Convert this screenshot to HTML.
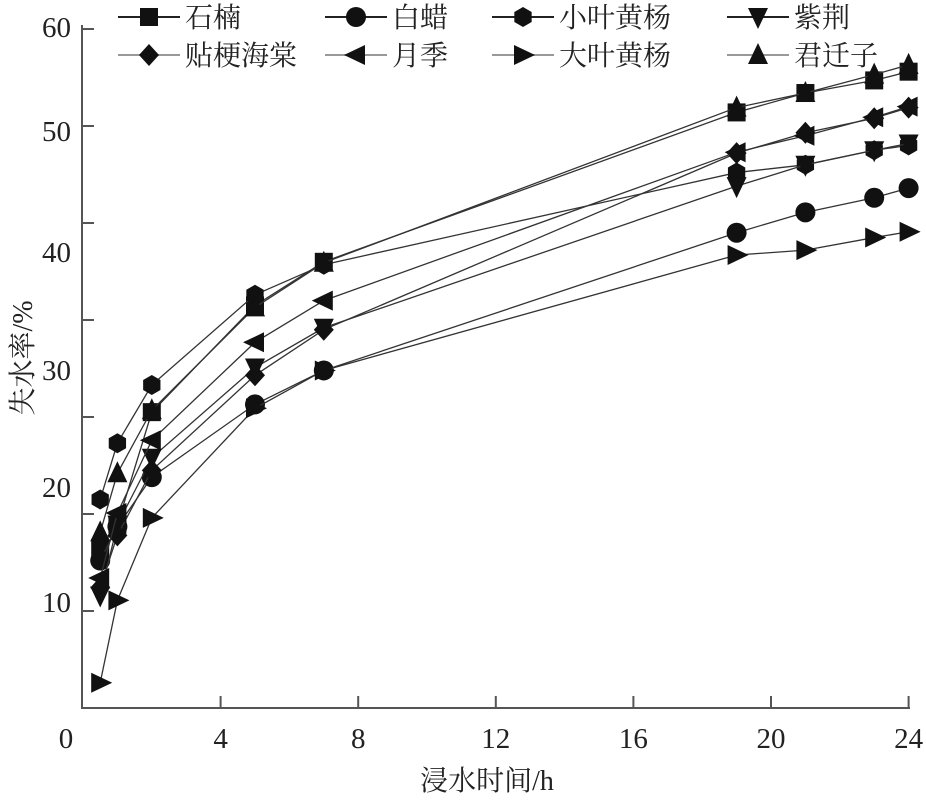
<!DOCTYPE html>
<html><head><meta charset="utf-8"><style>
html,body{margin:0;padding:0;background:#fff;}
svg{display:block;font-family:"Liberation Serif","Noto Serif CJK SC","Noto Sans CJK SC",serif;}
</style></head><body>
<svg id="chart" width="926" height="800" viewBox="0 0 926 800" xmlns="http://www.w3.org/2000/svg">
<g id="axes"></g>
<g id="series"></g>
<g id="legend"></g>
</svg>
<script>
const times = [0.5, 1, 2, 5, 7, 19, 21, 23, 24];
const names = ["石楠","白蜡","小叶黄杨","紫荆","贴梗海棠","月季","大叶黄杨","君迁子"];
const shinan  = [16.5, 18.9, 30.5, 41.5, 46.0, 61.4, 63.4, 64.7, 65.6];
const baila   = [15.2, 18.7, 23.8, 31.3, 34.8, 49.0, 51.1, 52.6, 53.6];
const xiaoye  = [21.5, 27.3, 33.3, 42.6, 45.7, 55.2, 56.0, 57.5, 58.0];
const zijing  = [11.6, 18.9, 25.8, 35.1, 39.2, 53.8, 56.0, 57.5, 58.2];
const tiegeng = [12.4, 17.8, 24.5, 34.3, 39.0, 57.2, 59.3, 60.8, 61.9];
const yueji   = [13.4, 20.1, 27.6, 37.7, 42.0, 57.3, 59.0, 60.9, 62.0];
const daye    = [2.6, 11.1, 19.6, 30.9, 34.8, 46.7, 47.2, 48.5, 49.1];
const junqian = [18.1, 24.2, 30.7, 41.3, 45.9, 61.9, 63.4, 65.3, 66.3];
const xTicks = [0, 4, 8, 12, 16, 20, 24];
const yTickLabels = ["60","50","40","30","20","10"];

const NS = "http://www.w3.org/2000/svg";
function xs(t){ return 83 + t * 34.4; }
function ys(v){ return 708 - v * 9.7; }
function mk(tag, attrs, parent){ const e=document.createElementNS(NS,tag); for(const k in attrs) e.setAttribute(k, attrs[k]); parent.appendChild(e); return e; }

const axes = document.getElementById('axes');
let a = mk('path',{d:'M82 25 V708 H910',fill:'none',stroke:'#555','stroke-width':2},axes);
 
for(let i=1;i<=7;i++){
  const t = mk('line',{x1:82,x2:94,y1:ys(i*10),y2:ys(i*10),stroke:'#555','stroke-width':2},axes);
   
}
const yLabelY = [37, 141, 262, 380, 497, 612];
yTickLabels.forEach((s,i)=>{
  const t = mk('text',{x:71,y:yLabelY[i],'text-anchor':'end','font-size':29,fill:'#222'},axes);
  t.textContent = s;
   
});
xTicks.forEach(v=>{
  if(v>0){
    const l = mk('line',{x1:xs(v),x2:xs(v),y1:708,y2:696,stroke:'#555','stroke-width':2},axes);
     
  }
  const t = mk('text',{x:v===0?66:xs(v),y:748,'text-anchor':'middle','font-size':29,fill:'#222'},axes);
  t.textContent = String(v);
   
});
let xt = mk('text',{x:487,y:790,'text-anchor':'middle','font-size':28,fill:'#222'},axes);
xt.textContent = '浸水时间/h';
 
let yt = mk('text',{x:0,y:0,'text-anchor':'middle','font-size':28,fill:'#222',transform:'translate(32,358) rotate(-90)'},axes);
yt.textContent = '失水率/%';
 

function marker(type, x, y, parent){
  const s = 10; let e;
  if(type==='square') e = mk('rect',{x:x-s+1,y:y-s+1,width:2*s-2,height:2*s-2},parent);
  else if(type==='circle') e = mk('circle',{cx:x,cy:y,r:s},parent);
  else if(type==='hex') e = mk('polygon',{points:[0,1,2,3,4,5].map(k=>{const an=Math.PI/3*k+Math.PI/6;return (x+s*Math.cos(an))+','+(y+s*Math.sin(an));}).join(' ')},parent);
  else if(type==='down') e = mk('polygon',{points:`${x-s},${y-s+1} ${x+s},${y-s+1} ${x},${y+s+2}`},parent);
  else if(type==='up') e = mk('polygon',{points:`${x-s},${y+s-1} ${x+s},${y+s-1} ${x},${y-s-2}`},parent);
  else if(type==='diamond') e = mk('polygon',{points:`${x},${y-s-1} ${x+s},${y} ${x},${y+s+1} ${x-s},${y}`},parent);
  else if(type==='left') e = mk('polygon',{points:`${x+s-1},${y-s} ${x+s-1},${y+s} ${x-s-2},${y}`},parent);
  else e = mk('polygon',{points:`${x-s+1},${y-s} ${x-s+1},${y+s} ${x+s+2},${y}`},parent);
  e.setAttribute('fill','#111');
  return e;
}

const allSeries = [shinan, baila, xiaoye, zijing, tiegeng, yueji, daye, junqian];
const types = ['square','circle','hex','down','diamond','left','right','up'];
const sg = document.getElementById('series');
allSeries.forEach((vals,si)=>{
  const g = mk('g',{},sg);
  
  
  const pl = mk('polyline',{points:vals.map((v,i)=>xs(times[i])+','+ys(v)).join(' '),fill:'none',stroke:'#333','stroke-width':1.3},g);
   
  vals.forEach((v,i)=>{
    const m = marker(types[si], xs(times[i]), ys(v), g);
     
  });
});

const lg = document.getElementById('legend');
const colX = [118, 325, 492, 727];
const rowY = [17, 55];
names.forEach((n,i)=>{
  const cx = colX[i%4], cy = rowY[Math.floor(i/4)];
  const g = mk('g',{},lg);
  
  
  mk('line',{x1:cx,x2:cx+62,y1:cy,y2:cy,stroke:i<4?'#222':'#999','stroke-width':2},g);
  marker(types[i], cx+31, cy, g);
  const t = mk('text',{x:cx+67,y:cy+10,'font-size':28,fill:'#222'},g);
  t.textContent = n;
});
</script>
</body></html>
